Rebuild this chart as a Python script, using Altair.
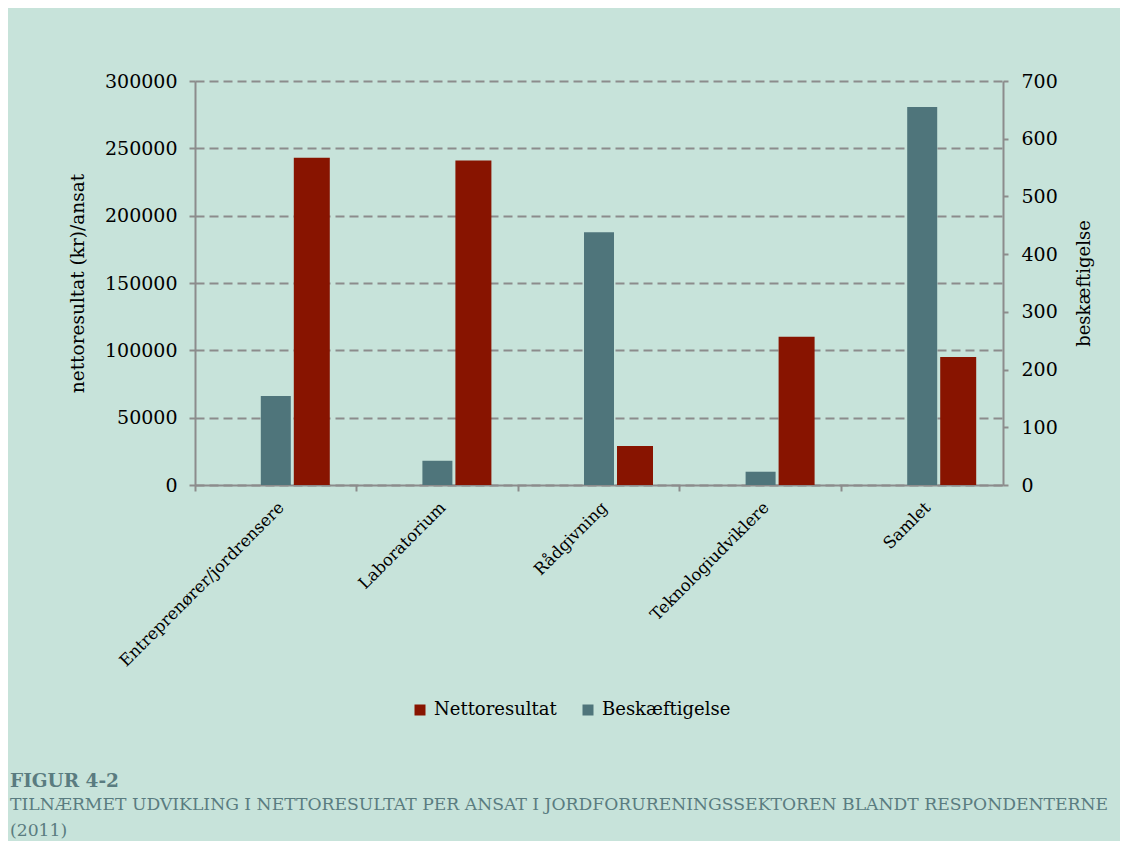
import altair as alt
import pandas as pd

categories = ["Entreprenører/jordrensere", "Laboratorium", "Rådgivning", "Teknologiudviklere", "Samlet"]
nettoresultat = [243000, 241000, 29000, 110000, 95000]
beskaeftigelse = [154, 42, 438, 23, 655]
series_names = ["Nettoresultat", "Beskæftigelse"]
left_ticks = [0, 50000, 100000, 150000, 200000, 250000, 300000]
right_ticks = [0, 100, 200, 300, 400, 500, 600, 700]
left_title = "nettoresultat (kr)/ansat"
right_title = "beskæftigelse"
caption_head = "FIGUR 4-2"
caption_lines = ["TILNÆRMET UDVIKLING I NETTORESULTAT PER ANSAT I JORDFORURENINGSSEKTOREN BLANDT RESPONDENTERNE", "(2011)"]

rows = []
for c, n, b in zip(categories, nettoresultat, beskaeftigelse):
    rows.append({"kategori": c, "serie": series_names[0], "vaerdi": n})
    rows.append({"kategori": c, "serie": series_names[1], "vaerdi": b})
df = pd.DataFrame(rows)

FONT = "DejaVu Serif"
GRAY = "#8c8c8c"
RED = "#881400"
BLUE = "#4f757b"
BG = "#c7e3da"
CAP = "#5a7c80"

W, H = 808, 404

x = alt.X(
    "kategori:N",
    sort=categories,
    scale=alt.Scale(paddingInner=0, paddingOuter=0),
    axis=alt.Axis(
        title=None, labelAngle=315, bandPosition=0, labelLimit=0,
        labelFont=FONT, labelFontSize=16.5, labelColor="black", labelPadding=8,
        tickSize=6, tickColor=GRAY, tickWidth=2, domainColor=GRAY, domainWidth=2,
        grid=False,
    ),
)

color = alt.Color(
    "serie:N",
    scale=alt.Scale(domain=series_names, range=[RED, BLUE]),
    legend=alt.Legend(
        title=None, orient="none", direction="horizontal", legendX=216, legendY=620,
        symbolType="square", symbolSize=121, symbolStrokeWidth=0,
        labelFont=FONT, labelFontSize=18, labelColor="black", labelOffset=5,
        columnPadding=22,
    ),
)

red = alt.Chart(df).transform_filter(alt.datum.serie == series_names[0]).mark_bar(
    width=36, xOffset=36
).encode(
    x=x,
    y=alt.Y(
        "vaerdi:Q",
        scale=alt.Scale(domain=[0, 300000], nice=False),
        axis=alt.Axis(
            orient="left", values=left_ticks, format="d", title=left_title,
            titleFont=FONT, titleFontSize=18.5, titleFontWeight="normal", titleColor="black",
            titlePadding=17,
            labelFont=FONT, labelFontSize=19, labelColor="black", labelPadding=12,
            tickSize=6, tickColor=GRAY, tickWidth=2, domainColor=GRAY, domainWidth=2,
            grid=True, gridColor=GRAY, gridWidth=2, gridDash=[9, 5],
        ),
    ),
    color=color,
)

blue = alt.Chart(df).transform_filter(alt.datum.serie == series_names[1]).mark_bar(
    width=30
).encode(
    x=x,
    y=alt.Y(
        "vaerdi:Q",
        scale=alt.Scale(domain=[0, 700], nice=False),
        axis=alt.Axis(
            orient="right", values=right_ticks, format="d", title=right_title,
            titleFont=FONT, titleFontSize=18, titleFontWeight="normal", titleColor="black",
            titleAngle=270, titlePadding=36,
            labelFont=FONT, labelFontSize=19, labelColor="black", labelPadding=13,
            tickSize=5, tickColor=GRAY, tickWidth=2, domainColor=GRAY, domainWidth=2,
            grid=False,
        ),
    ),
    color=color,
)

chart = alt.layer(red, blue).resolve_scale(y="independent").properties(
    width=W,
    height=H,
    autosize=alt.AutoSizeParams(type="none"),
    padding={"left": 187, "top": 73, "right": 117, "bottom": 356},
    background=BG,
    title=alt.TitleParams(
        text=caption_head,
        subtitle=caption_lines,
        orient="bottom",
        anchor="start",
        frame="group",
        dx=-185,
        offset=53,
        font=FONT, fontSize=18.5, fontWeight="bold", color=CAP,
        subtitleFont=FONT, subtitleFontSize=17.2, subtitleFontWeight="normal",
        subtitleColor=CAP, subtitleLineHeight=26, subtitlePadding=5,
    ),
).configure_view(stroke=None)

chart.save("out.html", embed_options={"renderer": "svg", "actions": False})
